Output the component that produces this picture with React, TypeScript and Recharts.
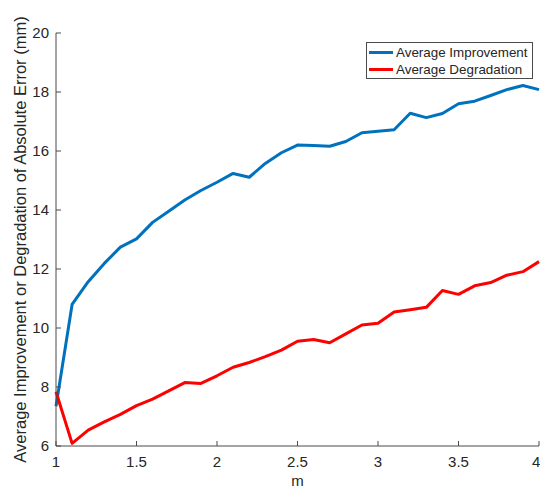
import React from 'react';
import { LineChart, Line, XAxis, YAxis } from 'recharts';

// m values 1.0 .. 4.0
const mValues = [
  1.0, 1.1, 1.2, 1.3, 1.4, 1.5, 1.6, 1.7, 1.8, 1.9, 2.0,
  2.1, 2.2, 2.3, 2.4, 2.5, 2.6, 2.7, 2.8, 2.9, 3.0,
  3.1, 3.2, 3.3, 3.4, 3.5, 3.6, 3.7, 3.8, 3.9, 4.0,
];

const improvement = [
  7.35, 10.8, 11.57, 12.19, 12.74, 13.02, 13.58, 13.96, 14.34, 14.66, 14.94,
  15.24, 15.11, 15.58, 15.94, 16.2, 16.19, 16.16, 16.32, 16.62, 16.67,
  16.72, 17.28, 17.13, 17.27, 17.6, 17.69, 17.88, 18.08, 18.22, 18.08,
];

const degradation = [
  7.84, 6.09, 6.54, 6.82, 7.07, 7.37, 7.59, 7.87, 8.15, 8.12, 8.38,
  8.67, 8.83, 9.03, 9.25, 9.55, 9.61, 9.5, 9.8, 10.1, 10.16,
  10.54, 10.62, 10.7, 11.27, 11.14, 11.43, 11.54, 11.79, 11.91, 12.25,
];

const xTicks = [1, 1.5, 2, 2.5, 3, 3.5, 4];
const yTicks = [6, 8, 10, 12, 14, 16, 18, 20];

const data = mValues.map((m, i) => ({ m, imp: improvement[i], deg: degradation[i] }));

const TEXT = '#262626';
const AXIS = '#4a4a4a';
const FONT = '"Liberation Sans", Arial, sans-serif';

const legendItems = [
  { name: 'Average Improvement', color: '#0072BD' },
  { name: 'Average Degradation', color: '#FF0000' },
];

const LegendBox = () => (
  <div
    style={{
      position: 'absolute',
      left: 366,
      top: 42,
      width: 167,
      height: 37,
      boxSizing: 'border-box',
      border: `1px solid ${AXIS}`,
      background: '#fff',
      paddingTop: 1,
      fontFamily: FONT,
      fontSize: 13.4,
      color: TEXT,
      lineHeight: '17px',
    }}
  >
    {legendItems.map((it) => (
      <div key={it.name} style={{ display: 'flex', alignItems: 'center', whiteSpace: 'nowrap' }}>
        <span style={{ display: 'inline-block', width: 24, height: 3, background: it.color, margin: '0 3px 0 2px' }} />
        <span>{it.name}</span>
      </div>
    ))}
  </div>
);

export default function App() {
  return (
    <div style={{ position: 'absolute', left: 0, top: 0, width: 540, height: 490, overflow: 'hidden', background: '#fff' }}>
      <LineChart width={540} height={490} data={data} margin={{ top: 33, right: 1, bottom: 0, left: 0 }}>
        <XAxis
          dataKey="m"
          type="number"
          domain={[1, 4]}
          ticks={xTicks}
          height={44}
          stroke={AXIS}
          tickSize={-5}
          tickMargin={15}
          tick={{ fill: TEXT, fontSize: 15, fontFamily: FONT }}
          label={{
            content: (p: any) => {
              const vb = p.viewBox;
              return (
                <text x={vb.x + vb.width / 2} y={vb.y + 40} textAnchor="middle" fill={TEXT} fontSize={15} fontFamily={FONT}>
                  m
                </text>
              );
            },
          }}
        />
        <XAxis
          xAxisId="top"
          dataKey="m"
          type="number"
          orientation="top"
          domain={[1, 4]}
          ticks={xTicks}
          height={0}
          stroke={AXIS}
          tickSize={-5}
          tickFormatter={() => ''}
        />
        <YAxis
          domain={[6, 20]}
          ticks={yTicks}
          width={56}
          stroke={AXIS}
          tickSize={-5}
          tickMargin={12}
          tick={{ fill: TEXT, fontSize: 15, fontFamily: FONT }}
          label={{
            content: (p: any) => {
              const vb = p.viewBox;
              const cy = vb.y + vb.height / 2;
              return (
                <text
                  x={20}
                  y={cy}
                  transform={`rotate(-90 20 ${cy})`}
                  textAnchor="middle"
                  dominantBaseline="central"
                  fill={TEXT}
                  fontSize={16.5}
                  fontFamily={FONT}
                >
                  Average Improvement or Degradation of Absolute Error (mm)
                </text>
              );
            },
          }}
        />
        <YAxis
          yAxisId="right"
          orientation="right"
          domain={[6, 20]}
          ticks={yTicks}
          width={0}
          stroke={AXIS}
          tickSize={-5}
          tickFormatter={() => ''}
        />
        <Line dataKey="imp" stroke="#0072BD" strokeWidth={3} dot={false} isAnimationActive={false} strokeLinejoin="round" />
        <Line dataKey="deg" stroke="#FF0000" strokeWidth={3} dot={false} isAnimationActive={false} strokeLinejoin="round" />
      </LineChart>
      <LegendBox />
    </div>
  );
}
